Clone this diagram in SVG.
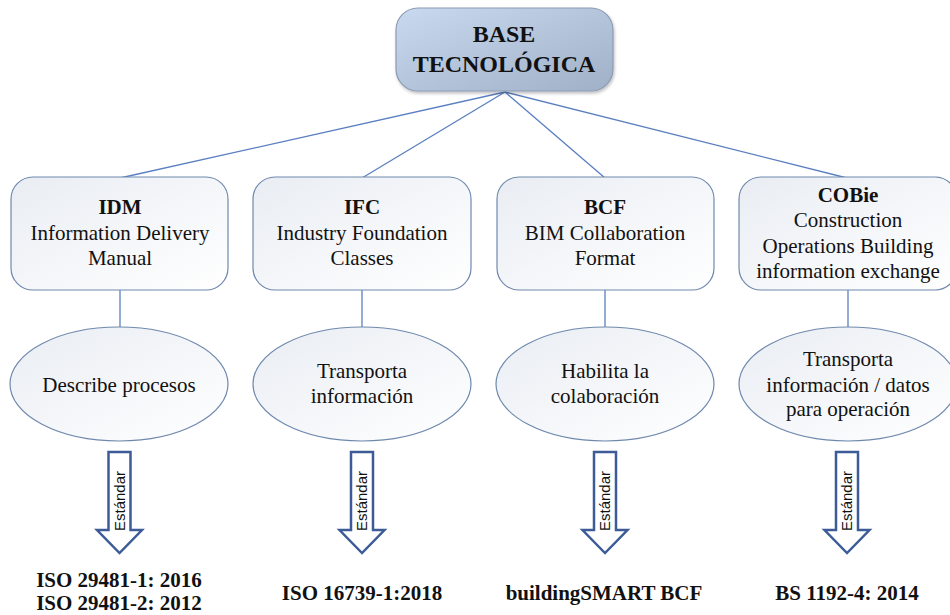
<svg xmlns="http://www.w3.org/2000/svg" width="950" height="615" viewBox="0 0 950 615">
<defs>
<linearGradient id="gTop" x1="0" y1="0" x2="1" y2="1">
<stop offset="0" stop-color="#c9daf0"/>
<stop offset="1" stop-color="#9fb0c7"/>
</linearGradient>
<linearGradient id="gBox" x1="0" y1="0" x2="1" y2="1">
<stop offset="0" stop-color="#e9edf3"/>
<stop offset="1" stop-color="#ffffff"/>
</linearGradient>
<filter id="sh" x="-10%" y="-10%" width="120%" height="130%">
<feDropShadow dx="1" dy="2" stdDeviation="1.5" flood-color="#000" flood-opacity="0.25"/>
</filter>
</defs>
<style>
.top{fill:url(#gTop);stroke:#8a9bb3;stroke-width:1.2}
.box{fill:url(#gBox);stroke:#6f89ad;stroke-width:1.2}
.con{stroke:#5a7fc0;stroke-width:1.3;fill:none}
.arr{fill:#fff;stroke:#3d5c97;stroke-width:2.5;stroke-linejoin:miter}
.t,.b,.h{font-family:'Liberation Serif','Times New Roman',Tinos,'DejaVu Serif',serif;fill:#111;text-anchor:middle}
.t{font-size:21px}
.b{font-size:21px;font-weight:bold}
.h{font-size:24px;font-weight:bold}
.s{font-family:'Liberation Sans',Arial,sans-serif;font-size:15px;fill:#111;text-anchor:middle}
</style>
<rect width="950" height="615" fill="#fff"/>
<g id="connectors">
<line class="con" x1="505" y1="92" x2="120" y2="178"/>
<line class="con" x1="505" y1="92" x2="362" y2="178"/>
<line class="con" x1="505" y1="92" x2="605" y2="178"/>
<line class="con" x1="505" y1="92" x2="847" y2="178"/>
<line class="con" x1="120" y1="290" x2="120" y2="327"/>
<line class="con" x1="362" y1="290" x2="362" y2="327"/>
<line class="con" x1="605" y1="290" x2="605" y2="327"/>
<line class="con" x1="848" y1="290" x2="848" y2="327"/>
</g>
<g id="base">
<rect class="top" x="396" y="8" width="217" height="83" rx="22" filter="url(#sh)"/>
<text class="h" x="504" y="42">BASE</text>
<text class="h" x="504" y="72">TECNOLÓGICA</text>
</g>
<g id="idm">
<rect class="box" x="11" y="177" width="217" height="113" rx="22"/>
<text class="b" x="120" y="214">IDM</text>
<text class="t" x="120" y="240">Information Delivery</text>
<text class="t" x="120" y="265">Manual</text>
</g>
<g id="ifc">
<rect class="box" x="253" y="177" width="218" height="113" rx="22"/>
<text class="b" x="362" y="214">IFC</text>
<text class="t" x="362" y="240">Industry Foundation</text>
<text class="t" x="362" y="265">Classes</text>
</g>
<g id="bcf">
<rect class="box" x="497" y="177" width="217" height="113" rx="22"/>
<text class="b" x="605" y="214">BCF</text>
<text class="t" x="605" y="240">BIM Collaboration</text>
<text class="t" x="605" y="265">Format</text>
</g>
<g id="cobie">
<rect class="box" x="739" y="177" width="218" height="113" rx="22"/>
<text class="b" x="848" y="202">COBie</text>
<text class="t" x="848" y="227">Construction</text>
<text class="t" x="848" y="253">Operations Building</text>
<text class="t" x="848" y="278">information exchange</text>
</g>
<g id="e-idm">
<ellipse class="box" cx="119" cy="384" rx="109" ry="57"/>
<text class="t" x="119" y="392">Describe procesos</text>
</g>
<g id="e-ifc">
<ellipse class="box" cx="362" cy="384" rx="109" ry="57"/>
<text class="t" x="362" y="378">Transporta</text>
<text class="t" x="362" y="403">información</text>
</g>
<g id="e-bcf">
<ellipse class="box" cx="605" cy="384" rx="109" ry="57"/>
<text class="t" x="605" y="378">Habilita la</text>
<text class="t" x="605" y="403">colaboración</text>
</g>
<g id="e-cobie">
<ellipse class="box" cx="848" cy="384" rx="109" ry="57"/>
<text class="t" x="848" y="366">Transporta</text>
<text class="t" x="848" y="392">información / datos</text>
<text class="t" x="848" y="416">para operación</text>
</g>
<g id="a-idm">
<path class="arr" d="M108.5 452 H130.5 V530 H142 L119.5 553 L97 530 H108.5 Z"/>
<text class="s" transform="translate(124.5,501) rotate(-90)">Estándar</text>
</g>
<g id="a-ifc">
<path class="arr" d="M351 452 H373 V530 H384.5 L362 553 L339.5 530 H351 Z"/>
<text class="s" transform="translate(367,501) rotate(-90)">Estándar</text>
</g>
<g id="a-bcf">
<path class="arr" d="M594 452 H616 V530 H627.5 L605 553 L582.5 530 H594 Z"/>
<text class="s" transform="translate(610,501) rotate(-90)">Estándar</text>
</g>
<g id="a-cobie">
<path class="arr" d="M836 452 H858 V530 H869.5 L847 553 L824.5 530 H836 Z"/>
<text class="s" transform="translate(852,501) rotate(-90)">Estándar</text>
</g>
<g id="std-idm">
<text class="b" x="119" y="587">ISO 29481-1: 2016</text>
<text class="b" x="119" y="610">ISO 29481-2: 2012</text>
</g>
<g id="std-ifc"><text class="b" x="362" y="600">ISO 16739-1:2018</text></g>
<g id="std-bcf"><text class="b" x="604" y="600">buildingSMART BCF</text></g>
<g id="std-cobie"><text class="b" x="847" y="600">BS 1192-4: 2014</text></g>
</svg>
